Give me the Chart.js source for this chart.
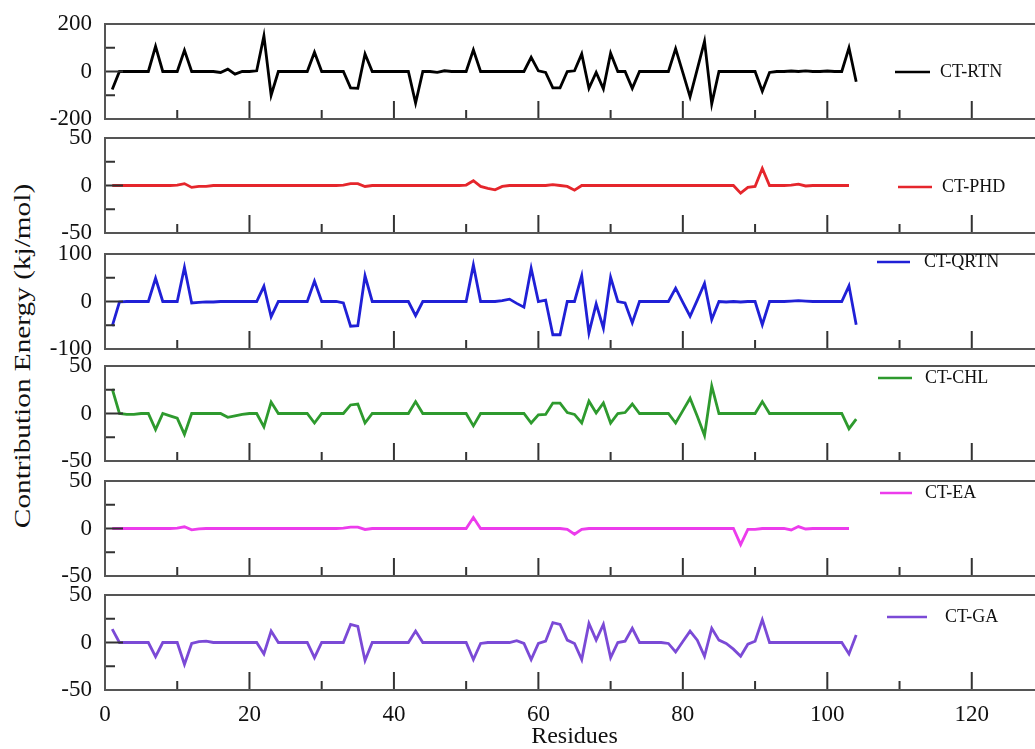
<!DOCTYPE html>
<html>
<head>
<meta charset="utf-8">
<script src="https://cdn.jsdelivr.net/npm/chart.js@4.4.1/dist/chart.umd.min.js"></script>
<style>
  html, body { margin: 0; padding: 0; background: #fff; overflow: hidden; }
  #wrap { position: relative; width: 1035px; height: 749px; overflow: hidden; background: #fff; }
  #wrap canvas { position: absolute; left: 0; }
  #ytitle {
    position: absolute; left: 22px; top: 356px;
    transform: translate(-50%, -50%) rotate(-90deg) scaleX(1.22);
    white-space: nowrap; font-family: "Liberation Serif", "Times New Roman", serif;
    font-size: 24px; line-height: 1; color: #111;
  }
</style>
</head>
<body>
<div id="wrap">
  <div id="ytitle">Contribution Energy (kj/mol)</div>
</div>
<script>
// Residue numbers along the x axis
const residues = [
  1, 2, 3, 4, 5, 6, 7, 8, 9, 10,
  11, 12, 13, 14, 15, 16, 17, 18, 19, 20,
  21, 22, 23, 24, 25, 26, 27, 28, 29, 30,
  31, 32, 33, 34, 35, 36, 37, 38, 39, 40,
  41, 42, 43, 44, 45, 46, 47, 48, 49, 50,
  51, 52, 53, 54, 55, 56, 57, 58, 59, 60,
  61, 62, 63, 64, 65, 66, 67, 68, 69, 70,
  71, 72, 73, 74, 75, 76, 77, 78, 79, 80,
  81, 82, 83, 84, 85, 86, 87, 88, 89, 90,
  91, 92, 93, 94, 95, 96, 97, 98, 99, 100,
  101, 102, 103, 104
];

// Per-residue contribution energies (kJ/mol)
const rtn = [
  -76, 0, 0, 0, 0, 0, 106, 0, 0, 0,
  89, 0, 0, 0, 0, -4, 10, -11, 0, 0,
  3, 150, -100, 0, 0, 0, 0, 0, 81, 0,
  0, 0, 0, -69, -71, 74, 0, 0, 0, 0,
  0, 0, -133, 0, 0, -4, 3, 0, 0, 0,
  91, 0, 0, 0, 0, 0, 0, 0, 60, 3,
  -4, -69, -69, 0, 3, 74, -71, -4, -73, 77,
  0, 0, -71, 0, 0, 0, 0, 0, 96, -5,
  -107, 10, 127, -136, 0, 0, 0, 0, 0, 0,
  -83, -4, 0, 0, 2, 0, 3, 0, 0, 2,
  0, 0, 100, -43
];

const phd = [
  0, 0, 0, 0, 0, 0, 0, 0, 0, 0.5,
  2, -2, -1, -1, 0, 0, 0, 0, 0, 0,
  0, 0, 0, 0, 0, 0, 0, 0, 0, 0,
  0, 0, 0.5, 2, 2, -1, 0, 0, 0, 0,
  0, 0, 0, 0, 0, 0, 0, 0, 0, 0.5,
  5, -1, -3, -4.5, -1, 0, 0, 0, 0, 0,
  0, 1, 0, -1, -5, 0, 0, 0, 0, 0,
  0, 0, 0, 0, 0, 0, 0, 0, 0, 0,
  0, 0, 0, 0, 0, 0, 0, -8, -2, -1,
  18, 0, 0, 0, 0.5, 1.5, -0.5, 0, 0, 0,
  0, 0, 0
];

const qrtn = [
  -52, -1, 0, 0, 0, 0, 49, 0, 0, 0,
  72, -3, -2, -1, -1, 0, 0, 0, 0, 0,
  0, 32, -32, 0, 0, 0, 0, 0, 43, 0,
  0, 0, -3, -52, -51, 54, 0, 0, 0, 0,
  0, 0, -30, 0, 0, 0, 0, 0, 0, 0,
  77, 0, 0, 0, 2, 5, -4, -12, 70, 0,
  3, -70, -70, 0, 0, 54, -66, -5, -56, 51,
  0, -3, -45, 0, 0, 0, 0, 0, 28, -2,
  -31, 3, 38, -38, 0, -1, 0, -1, 0, 0,
  -49, 0, 0, 0, 1, 2, 1, 0, 0, 0,
  0, 0, 33, -49
];

const chl = [
  26, 0, -1, -1, 0, 0, -17, 0, -2.5, -5,
  -22, 0, 0, 0, 0, 0, -4, -2.5, -1, 0,
  0, -14, 12, 0, 0, 0, 0, 0, -10, 0,
  0, 0, 0, 9, 10, -10, 0, 0, 0, 0,
  0, 0, 12.5, 0, 0, 0, 0, 0, 0, 0,
  -13, 0, 0, 0, 0, 0, 0, 0, -10, -1.5,
  -1, 11, 11, 1, -1, -10, 13, 0.5, 11, -10,
  0, 1, 10, 0, 0, 0, 0, 0, -10, 3,
  16, -3, -23, 29, 0, 0, 0, 0, 0, 0,
  12.5, 0, 0, 0, 0, 0, 0, 0, 0, 0,
  0, 0, -16, -6
];

const ea = [
  0, 0, 0, 0, 0, 0, 0, 0, 0, 0.5,
  1.8, -1.4, -0.5, 0, 0, 0, 0, 0, 0, 0,
  0, 0, 0, 0, 0, 0, 0, 0, 0, 0,
  0, 0, 0.5, 1.5, 1.5, -1, 0, 0, 0, 0,
  0, 0, 0, 0, 0, 0, 0, 0, 0, 0,
  11.5, 0, 0, 0, 0, 0, 0, 0, 0, 0,
  0, 0, 0, -1, -6, -1, 0, 0, 0, 0,
  0, 0, 0, 0, 0, 0, 0, 0, 0, 0,
  0, 0, 0, 0, 0, 0, 0, -17, -1, -1,
  0, 0, 0, 0, -1.5, 2, -0.5, 0, 0, 0,
  0, 0, 0
];

const ga = [
  14, 0, 0, 0, 0, 0, -15, 0, 0, 0,
  -23, -1, 1, 1.4, 0, 0, 0, 0, 0, 0,
  0, -12, 12, 0, 0, 0, 0, 0, -16, 0,
  0, 0, 0, 19, 17, -19, 0, 0, 0, 0,
  0, 0, 12, 0, 0, 0, 0, 0, 0, 0,
  -18, -1, 0, 0, 0, 0, 2, -1, -18, -1,
  1.4, 21, 19, 2.5, -1, -18, 20, 2.5, 19, -16,
  0, 1.4, 15, 0, 0, 0, 0, -1, -10, 1,
  12, 2.5, -14.5, 15, 2.5, -1, -7, -14.5, -1.8, 1.4,
  24, 0, 0, 0, 0, 0, 0, 0, 0, 0,
  0, 0, -12, 8
];

// Axis ticks
const xMajorTicks = [0, 20, 40, 60, 80, 100, 120];
const xMinorTicks = [10, 30, 50, 70, 90, 110];
const ticks200 = [-200, 0, 200];
const minor200 = [-100, 100];
const ticks100 = [-100, 0, 100];
const minor100 = [-50, 50];
const ticks50 = [-50, 0, 50];
const minor50 = [-25, 25];

const SERIF = '"Liberation Serif", "Times New Roman", serif';
const PLOT_LEFT = 105;
const PLOT_H = 95;
const PAD = 26;
const CANVAS_W = 1044;

const panels = [
  { name: 'CT-RTN',  values: rtn,  color: '#000000', ticks: ticks200, minor: minor200, top: 24,
    legend: { x1: 895, x2: 930, y: 72,  tx: 940 } },
  { name: 'CT-PHD',  values: phd,  color: '#e5262c', ticks: ticks50,  minor: minor50,  top: 138,
    legend: { x1: 898, x2: 932, y: 187, tx: 942 } },
  { name: 'CT-QRTN', values: qrtn, color: '#2020d6', ticks: ticks100, minor: minor100, top: 254,
    legend: { x1: 877, x2: 910, y: 262, tx: 924 } },
  { name: 'CT-CHL',  values: chl,  color: '#2e9a2e', ticks: ticks50,  minor: minor50,  top: 366,
    legend: { x1: 878, x2: 912, y: 378, tx: 925 } },
  { name: 'CT-EA',   values: ea,   color: '#ec3cec', ticks: ticks50,  minor: minor50,  top: 481,
    legend: { x1: 880, x2: 912, y: 493, tx: 925 } },
  { name: 'CT-GA',   values: ga,   color: '#7b4ad6', ticks: ticks50,  minor: minor50,  top: 595,
    legend: { x1: 887, x2: 927, y: 617, tx: 945 } }
];

// Frame, inward tick marks and the per-panel legend entry
const framePlugin = {
  id: 'frame',
  afterDatasetsDraw(chart, args, o) {
    const { ctx, chartArea: a, scales: { x, y } } = chart;
    ctx.save();
    ctx.strokeStyle = '#333';
    ctx.lineWidth = 2;
    ctx.beginPath();
    o.xMajor.forEach(v => { const p = x.getPixelForValue(v); ctx.moveTo(p, a.bottom); ctx.lineTo(p, a.bottom - 18); });
    o.xMinor.forEach(v => { const p = x.getPixelForValue(v); ctx.moveTo(p, a.bottom); ctx.lineTo(p, a.bottom - 9); });
    o.yMajor.forEach(v => { const p = y.getPixelForValue(v); ctx.moveTo(a.left, p); ctx.lineTo(a.left + 18, p); });
    o.yMinor.forEach(v => { const p = y.getPixelForValue(v); ctx.moveTo(a.left, p); ctx.lineTo(a.left + 10, p); });
    ctx.stroke();
    ctx.strokeStyle = '#555';
    ctx.strokeRect(a.left, a.top, a.right - a.left + 4, a.bottom - a.top);

    // legend
    const L = o.legend;
    ctx.strokeStyle = o.color;
    ctx.lineWidth = 2.5;
    ctx.beginPath();
    ctx.moveTo(L.x1, L.y - o.offsetTop);
    ctx.lineTo(L.x2, L.y - o.offsetTop);
    ctx.stroke();
    ctx.fillStyle = '#111';
    ctx.font = '18px ' + SERIF;
    ctx.textBaseline = 'middle';
    ctx.textAlign = 'left';
    ctx.fillText(o.label, L.tx, L.y - o.offsetTop);
    ctx.restore();
  }
};

const wrap = document.getElementById('wrap');

panels.forEach((p, i) => {
  const isBottom = i === panels.length - 1;
  const canvasTop = p.top - PAD;
  const canvasH = isBottom ? 749 - canvasTop : PLOT_H + 2 * PAD;
  const cv = document.createElement('canvas');
  cv.width = CANVAS_W;
  cv.height = canvasH;
  cv.style.top = canvasTop + 'px';
  cv.style.width = CANVAS_W + 'px';
  cv.style.height = canvasH + 'px';
  wrap.appendChild(cv);

  const points = p.values.map((v, k) => ({ x: residues[k], y: v }));

  new Chart(cv, {
    type: 'line',
    data: {
      datasets: [{
        label: p.name,
        data: points,
        borderColor: p.color,
        borderWidth: 2.8,
        pointRadius: 0,
        tension: 0,
        fill: false
      }]
    },
    options: {
      responsive: false,
      animation: false,
      devicePixelRatio: 1,
      layout: { padding: { top: PAD, bottom: isBottom ? 0 : PAD, left: 0, right: 0 } },
      plugins: {
        legend: { display: false },
        tooltip: { enabled: false },
        frame: {
          xMajor: xMajorTicks, xMinor: xMinorTicks,
          yMajor: p.ticks, yMinor: p.minor,
          legend: p.legend, label: p.name, color: p.color,
          offsetTop: canvasTop
        }
      },
      scales: {
        x: {
          type: 'linear',
          min: 0,
          max: 130,
          display: isBottom,
          afterBuildTicks: s => { s.ticks = xMajorTicks.map(v => ({ value: v })); },
          afterFit: s => { if (isBottom) s.height = canvasH - PAD - PLOT_H; },
          grid: { display: false, drawTicks: false },
          border: { display: false },
          ticks: {
            padding: 13,
            maxRotation: 0,
            color: '#111',
            font: { family: SERIF, size: 23, lineHeight: 1 }
          },
          title: {
            display: true,
            text: 'Residues',
            color: '#111',
            padding: { top: 0, bottom: 0 },
            font: { family: SERIF, size: 24, lineHeight: 1 }
          }
        },
        y: {
          type: 'linear',
          min: p.ticks[0],
          max: p.ticks[p.ticks.length - 1],
          afterBuildTicks: s => { s.ticks = p.ticks.map(v => ({ value: v })); },
          afterFit: s => { s.width = PLOT_LEFT; },
          grid: { display: false, drawTicks: false },
          border: { display: false },
          ticks: {
            padding: 13,
            color: '#111',
            font: { family: SERIF, size: 23, lineHeight: 1 }
          }
        }
      }
    },
    plugins: [framePlugin]
  });
});
</script>
</body>
</html>
